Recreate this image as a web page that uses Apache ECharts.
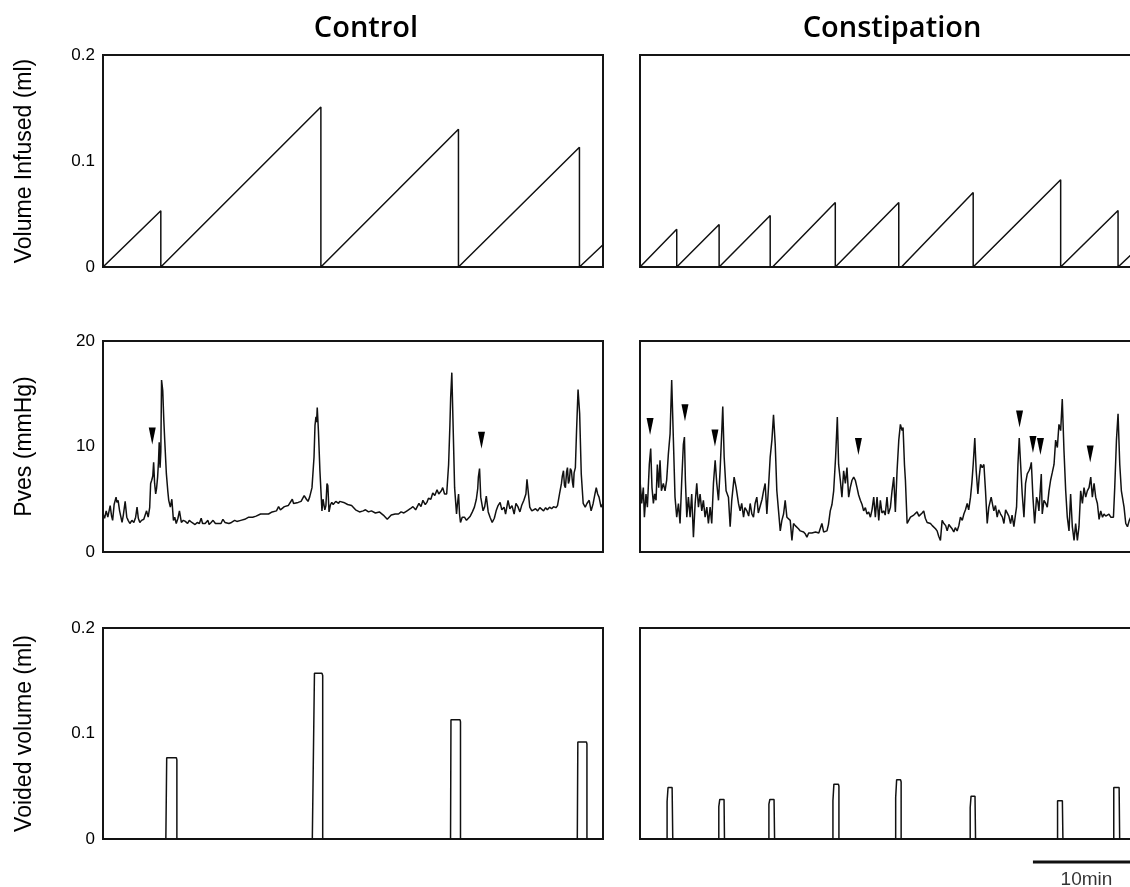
<!DOCTYPE html>
<html><head><meta charset="utf-8">
<script src="https://cdn.jsdelivr.net/npm/echarts@6/dist/echarts.min.js"></script>
<style>html,body{margin:0;padding:0;background:#fff}#c{width:1130px;height:887px}</style>
</head><body><div id="c"></div><script>
// time axis (minutes) shared by all panels
const timeMax = 46.7;
const panelTitles = ['Control', 'Constipation'];
const yAxisNames = ['Volume Infused (ml)', 'Pves (mmHg)', 'Voided volume (ml)'];
const yTicksVolume = [0, 0.1, 0.2];
const yTicksPressure = [0, 10, 20];
const scaleBar = [[36.7, 0], [46.7, 0]];
const scaleBarLabel = '10min';

// [minute, ml]
const infusedControl = [[0,0],[5.4,0.053],[5.4,0],[5.55,0],[20.35,0.151],[20.35,0],[20.45,0],[33.2,0.130],[33.2,0],[33.3,0],[44.5,0.113],[44.5,0],[44.6,0],[46.7,0.021]];
const infusedConstipation = [[0,0],[3.43,0.0357],[3.43,0],[3.58,0],[7.39,0.0401],[7.39,0],[7.55,0],[12.16,0.0486],[12.16,0],[12.38,0],[18.24,0.0608],[18.24,0],[18.4,0],[24.17,0.0608],[24.17,0],[24.42,0],[31.12,0.0702],[31.12,0],[31.27,0],[39.29,0.0824],[39.29,0],[39.45,0],[44.65,0.0533],[44.65,0],[44.8,0],[46.7,0.0195]];

// [minute, mmHg]
const pvesControl = [[0,3.6],[0.15,3.2],[0.3,3.9],[0.45,3.3],[0.67,4.4],[0.8,3.4],[0.9,3.0],[1.04,4.5],[1.22,5.2],[1.3,4.7],[1.41,4.9],[1.55,3.9],[1.78,2.8],[1.9,3.5],[2.07,4.8],[2.22,3.3],[2.35,3.0],[2.51,2.7],[2.7,3.0],[2.88,2.8],[3.05,3.3],[3.18,4.25],[3.3,3.2],[3.44,2.8],[3.6,3.0],[3.81,3.1],[4.07,3.9],[4.22,3.3],[4.36,4.2],[4.45,6.5],[4.55,6.8],[4.65,7.2],[4.73,8.5],[4.82,6.5],[4.92,5.5],[5.0,6.0],[5.10,7.1],[5.18,8.5],[5.25,10.4],[5.33,8.0],[5.40,9.5],[5.47,16.3],[5.58,15.3],[5.68,12.5],[5.77,10.5],[5.92,7.4],[6.05,5.8],[6.14,4.9],[6.29,4.25],[6.43,5.0],[6.58,3.0],[6.7,3.3],[6.84,2.7],[7.0,3.2],[7.14,3.9],[7.32,2.8],[7.5,3.0],[7.69,2.9],[7.9,2.7],[8.06,3.0],[8.3,2.8],[8.6,2.6],[8.8,2.8],[9.0,2.7],[9.17,3.2],[9.3,2.7],[9.54,2.7],[9.8,3.0],[9.91,2.6],[10.1,2.8],[10.28,3.0],[10.5,2.7],[10.65,2.8],[11.02,2.7],[11.2,3.1],[11.39,2.8],[11.76,2.7],[12.0,2.8],[12.13,2.7],[12.3,3.0],[12.5,2.9],[12.87,3.0],[13.24,3.1],[13.61,3.3],[13.98,3.3],[14.3,3.4],[14.72,3.6],[15.1,3.6],[15.46,3.6],[15.8,3.8],[16.2,3.9],[16.4,4.3],[16.57,4.0],[16.94,4.3],[17.3,4.4],[17.68,5.0],[17.8,4.6],[18.23,4.7],[18.5,4.8],[18.79,5.35],[19.0,5.0],[19.15,4.8],[19.3,5.2],[19.52,6.1],[19.71,9.0],[19.8,12.0],[19.89,12.8],[19.95,12.3],[20.01,13.7],[20.12,11.5],[20.26,7.7],[20.45,3.9],[20.55,5.0],[20.63,5.0],[20.72,4.0],[20.82,4.4],[20.92,6.5],[21.0,6.3],[21.11,3.8],[21.25,4.5],[21.37,4.7],[21.5,4.5],[21.74,4.8],[22.0,4.6],[22.11,4.8],[22.48,4.7],[22.85,4.5],[23.22,4.4],[23.59,4.0],[23.96,3.8],[24.3,3.9],[24.52,4.0],[24.8,3.8],[25.07,3.9],[25.44,3.7],[25.81,3.8],[26.18,3.5],[26.55,3.1],[26.92,3.5],[27.29,3.6],[27.6,3.6],[27.84,3.8],[28.1,3.7],[28.4,3.9],[28.7,4.1],[28.95,4.3],[29.2,4.0],[29.51,4.6],[29.7,4.3],[29.88,4.9],[30.1,4.5],[30.25,4.7],[30.4,5.1],[30.62,5.0],[30.8,5.6],[30.99,5.35],[31.2,5.9],[31.36,5.5],[31.6,5.8],[31.73,6.1],[31.9,5.5],[32.1,5.5],[32.28,8.3],[32.4,12.0],[32.47,14.6],[32.58,17.0],[32.69,12.4],[32.75,12.5],[32.84,6.1],[33.02,3.6],[33.1,4.5],[33.21,5.5],[33.3,3.6],[33.39,2.8],[33.55,3.3],[33.76,3.3],[33.95,3.0],[34.13,3.0],[34.3,3.4],[34.50,3.8],[34.69,4.25],[34.87,5.0],[35.0,6.0],[35.06,7.1],[35.17,7.9],[35.28,5.2],[35.5,3.9],[35.65,4.3],[35.80,5.3],[35.98,3.8],[36.15,3.3],[36.35,2.8],[36.55,3.2],[36.72,3.9],[36.9,4.4],[37.09,4.7],[37.25,4.0],[37.46,4.25],[37.6,3.6],[37.83,4.9],[38.0,4.1],[38.2,4.4],[38.4,3.6],[38.57,4.6],[38.75,4.3],[38.94,3.8],[39.1,4.4],[39.31,4.9],[39.5,5.5],[39.6,6.9],[39.68,6.9],[39.86,4.25],[40.05,3.9],[40.23,3.8],[40.4,4.1],[40.6,3.9],[40.8,4.2],[40.97,4.1],[41.15,3.9],[41.34,4.2],[41.5,4.0],[41.71,4.25],[41.9,4.1],[42.08,4.3],[42.3,4.2],[42.45,4.4],[42.64,5.5],[42.82,6.5],[42.9,7.2],[43.01,7.7],[43.1,6.3],[43.19,6.1],[43.3,7.6],[43.38,8.0],[43.47,6.5],[43.56,6.8],[43.65,7.9],[43.75,7.7],[43.85,6.6],[43.93,6.1],[44.0,7.5],[44.12,8.0],[44.23,11.5],[44.37,15.4],[44.45,14.2],[44.52,13.1],[44.6,10.0],[44.67,7.4],[44.85,4.6],[45.04,4.25],[45.2,4.6],[45.41,4.9],[45.59,3.9],[45.78,4.6],[45.95,5.5],[46.07,6.1],[46.2,5.5],[46.33,5.2],[46.52,4.25],[46.7,4.6]];
const pvesConstipation = [[0,6.8],[0.16,4.6],[0.31,6.1],[0.41,3.3],[0.56,5.5],[0.69,4.25],[0.87,8.3],[1.0,9.8],[1.12,6.1],[1.25,4.6],[1.37,5.5],[1.5,4.9],[1.62,8.3],[1.75,6.1],[1.87,8.7],[2.0,5.8],[2.18,6.5],[2.34,5.8],[2.49,6.8],[2.65,9.3],[2.81,11.2],[2.96,16.3],[3.12,10.6],[3.27,5.2],[3.43,3.3],[3.59,4.6],[3.74,2.7],[3.90,6.8],[4.05,10.2],[4.15,10.9],[4.24,6.8],[4.37,3.3],[4.52,5.2],[4.68,3.3],[4.83,5.5],[4.99,1.4],[5.15,4.6],[5.30,6.5],[5.46,4.25],[5.61,5.5],[5.77,3.9],[5.92,4.9],[6.08,3.3],[6.24,4.25],[6.39,2.7],[6.55,4.25],[6.70,2.7],[6.86,6.5],[7.02,8.7],[7.17,6.5],[7.33,4.9],[7.48,7.7],[7.64,11.5],[7.73,13.8],[7.86,9.0],[8.04,5.8],[8.26,5.2],[8.42,2.4],[8.57,4.9],[8.79,7.1],[8.98,6.1],[9.20,4.6],[9.35,3.9],[9.5,4.6],[9.67,3.3],[9.8,4.2],[9.98,3.9],[10.15,3.4],[10.29,4.6],[10.45,3.6],[10.60,3.3],[10.75,4.6],[10.91,5.2],[11.05,3.7],[11.23,3.6],[11.4,5.0],[11.54,5.8],[11.69,6.5],[11.85,3.6],[12.0,6.1],[12.16,9.0],[12.32,10.6],[12.47,13.0],[12.63,10.2],[12.78,5.8],[12.94,3.9],[13.10,2.0],[13.25,3.0],[13.41,3.6],[13.56,4.9],[13.72,3.3],[13.9,3.2],[14.03,3.0],[14.19,1.1],[14.34,2.7],[14.5,2.5],[14.66,2.4],[14.8,2.2],[14.97,2.0],[15.1,2.1],[15.28,1.9],[15.45,1.7],[15.59,1.4],[15.75,1.8],[15.90,1.7],[16.05,1.8],[16.21,1.8],[16.4,1.9],[16.53,2.0],[16.7,1.8],[16.84,1.7],[16.99,2.7],[17.15,1.9],[17.3,2.0],[17.46,2.0],[17.6,2.6],[17.77,3.9],[17.93,4.5],[18.09,5.8],[18.27,9.0],[18.43,12.8],[18.55,8.3],[18.71,6.8],[18.86,5.2],[19.02,7.7],[19.18,6.5],[19.33,8.0],[19.49,5.2],[19.64,6.1],[19.8,6.8],[19.96,7.1],[20.11,6.8],[20.27,6.1],[20.42,5.4],[20.58,4.9],[20.74,4.5],[20.89,3.9],[21.05,4.2],[21.20,3.6],[21.36,3.8],[21.52,3.3],[21.67,4.0],[21.83,5.2],[21.98,3.3],[22.14,5.2],[22.30,3.0],[22.45,4.9],[22.6,3.7],[22.76,3.9],[22.9,3.5],[23.07,5.2],[23.2,3.6],[23.39,4.25],[23.54,5.8],[23.70,7.1],[23.85,3.8],[24.01,7.7],[24.17,10.6],[24.32,12.1],[24.48,11.5],[24.57,11.8],[24.70,8.3],[24.79,6.8],[24.95,2.7],[25.1,3.0],[25.26,3.3],[25.4,3.2],[25.57,3.5],[25.7,3.4],[25.88,3.8],[26.05,3.4],[26.19,3.3],[26.35,3.7],[26.50,3.9],[26.65,3.2],[26.82,2.8],[26.95,2.9],[27.13,2.7],[27.3,2.5],[27.44,2.4],[27.6,2.2],[27.75,2.0],[27.9,1.5],[28.06,1.1],[28.22,3.0],[28.38,2.7],[28.55,2.5],[28.69,2.0],[28.85,2.6],[29.0,2.4],[29.15,2.2],[29.31,1.9],[29.45,2.3],[29.62,2.0],[29.78,2.5],[29.93,3.3],[30.1,3.0],[30.25,3.6],[30.4,4.0],[30.56,4.6],[30.7,4.0],[30.87,5.2],[31.0,6.6],[31.12,8.3],[31.27,10.8],[31.40,7.7],[31.56,5.5],[31.68,7.1],[31.81,8.3],[31.96,8.0],[32.12,8.3],[32.27,5.8],[32.43,2.7],[32.58,4.25],[32.80,5.2],[32.95,4.4],[33.05,3.9],[33.2,4.4],[33.36,3.3],[33.5,4.0],[33.68,3.6],[33.85,3.3],[33.99,2.7],[34.15,4.0],[34.30,3.9],[34.45,3.4],[34.61,2.7],[34.75,3.5],[34.92,2.4],[35.05,3.4],[35.17,4.25],[35.30,8.3],[35.42,10.8],[35.55,8.3],[35.70,5.5],[35.86,3.3],[36.01,6.5],[36.17,7.4],[36.33,7.7],[36.45,8.0],[36.55,8.5],[36.70,5.2],[36.86,2.7],[37.04,5.2],[37.15,4.8],[37.26,3.9],[37.48,7.4],[37.57,3.6],[37.73,4.9],[37.9,4.6],[38.04,4.25],[38.2,5.8],[38.35,6.8],[38.5,7.5],[38.67,8.3],[38.82,10.6],[38.98,9.9],[39.13,12.1],[39.29,11.5],[39.44,14.5],[39.60,9.6],[39.76,5.8],[39.91,3.3],[40.07,2.0],[40.22,5.5],[40.38,2.4],[40.54,1.1],[40.69,2.7],[40.85,1.1],[41.0,2.4],[41.16,5.8],[41.32,4.6],[41.47,6.1],[41.63,5.2],[41.78,5.8],[41.94,6.1],[42.10,7.1],[42.25,5.2],[42.41,6.5],[42.56,5.2],[42.72,4.6],[42.88,3.1],[43.03,3.9],[43.2,3.3],[43.34,3.6],[43.5,3.4],[43.65,3.3],[43.8,3.6],[43.97,3.3],[44.1,3.4],[44.22,3.3],[44.34,6.1],[44.50,10.6],[44.65,13.1],[44.81,8.3],[44.96,5.8],[45.21,4.25],[45.37,2.7],[45.53,2.4],[45.7,3.0],[45.84,3.3],[46.0,3.0],[46.2,3.4],[46.4,2.9],[46.7,3.2]];

// arrowheads marking non-voiding contractions [minute, mmHg]
const arrowsControl = [[4.6,11.0],[35.35,10.6]];
const arrowsConstipation = [[0.94,11.9],[4.2,13.2],[7.0,10.8],[20.4,10.0],[35.45,12.6],[36.7,10.2],[37.4,10.0],[42.05,9.3]];

// [minute, ml]
const voidedControl = [[0,0],[5.87,0],[5.95,0.077],[6.85,0.077],[6.9,0.075],[6.9,0],[19.55,0],[19.75,0.157],[20.45,0.157],[20.52,0.155],[20.52,0],[32.46,0],[32.5,0.113],[33.35,0.113],[33.39,0.111],[33.39,0],[44.3,0],[44.35,0.092],[45.15,0.092],[45.2,0.09],[45.2,0],[46.7,0]];
const voidedConstipation = [[0,0],[2.53,0],[2.53,0.0356],[2.62,0.0356],[2.62,0.0488],[3.0,0.0488],[3.06,0.047],[3.06,0],[7.36,0],[7.36,0.0306],[7.45,0.0306],[7.45,0.0375],[7.85,0.0375],[7.89,0.036],[7.89,0],[12.04,0],[12.04,0.033],[12.13,0.033],[12.13,0.0375],[12.52,0.0375],[12.57,0.036],[12.57,0],[18.02,0],[18.02,0.0362],[18.11,0.0362],[18.11,0.052],[18.53,0.052],[18.58,0.05],[18.58,0],[23.88,0],[23.88,0.0394],[23.97,0.0394],[23.97,0.0561],[24.34,0.0561],[24.39,0.054],[24.39,0],[30.84,0],[30.84,0.0299],[30.92,0.0299],[30.92,0.0406],[31.29,0.0406],[31.34,0.039],[31.34,0],[39.0,0],[39.0,0.0362],[39.45,0.0362],[39.5,0.035],[39.5,0],[44.25,0],[44.25,0.0488],[44.75,0.0488],[44.8,0.047],[44.8,0],[46.7,0]];

const chart = echarts.init(document.getElementById('c'), null, {renderer: 'canvas'});

const colLeft = [103, 640];
const colWidth = 500;
const rowTop = [55, 341, 628];
const rowHeight = [212, 211, 211];
const panelData = [
  [infusedControl, infusedConstipation],
  [pvesControl, pvesConstipation],
  [voidedControl, voidedConstipation]
];
const rowTicks = [yTicksVolume, yTicksPressure, yTicksVolume];

const grids = [], xAxes = [], yAxes = [], series = [];
for (let r = 0; r < 3; r++) {
  for (let c = 0; c < 2; c++) {
    const idx = grids.length;
    grids.push({left: colLeft[c], top: rowTop[r], width: colWidth, height: rowHeight[r],
      show: true, borderColor: '#151515', borderWidth: 2, backgroundColor: 'transparent',
      outerBoundsMode: 'none', containLabel: false});
    xAxes.push({type: 'value', gridIndex: idx, min: 0, max: timeMax, show: false});
    const ticks = rowTicks[r];
    yAxes.push({type: 'value', gridIndex: idx, min: ticks[0], max: ticks[2], interval: ticks[1] - ticks[0],
      axisLine: {show: false}, axisTick: {show: false}, splitLine: {show: false},
      axisLabel: {show: c === 0, color: '#000', fontFamily: 'Liberation Sans', fontSize: 17, margin: 8,
        formatter: v => String(v)},
      name: c === 0 ? yAxisNames[r] : '', nameLocation: 'middle', nameRotate: 90, nameGap: 67,
      nameTextStyle: {color: '#000', fontFamily: 'Liberation Sans', fontSize: 23}});
    series.push({type: 'line', xAxisIndex: idx, yAxisIndex: idx, data: panelData[r][c],
      symbol: 'none', silent: true, animation: false,
      lineStyle: {color: '#111', width: 1.5}});
  }
}
// arrowheads in Pves panels
[arrowsControl, arrowsConstipation].forEach((arr, c) => {
  series.push({type: 'scatter', xAxisIndex: 2 + c, yAxisIndex: 2 + c, data: arr,
    symbol: 'triangle', symbolRotate: 180, symbolSize: [7, 17], animation: false, silent: true,
    itemStyle: {color: '#000', opacity: 1}});
});
// scale bar grid
grids.push({left: colLeft[1], top: 855, width: colWidth, height: 14, show: false, outerBoundsMode: 'none'});
xAxes.push({type: 'value', gridIndex: 6, min: 0, max: timeMax, show: false});
yAxes.push({type: 'value', gridIndex: 6, min: -1, max: 1, show: false});
series.push({type: 'line', xAxisIndex: 6, yAxisIndex: 6, data: scaleBar, symbol: 'none', animation: false,
  lineStyle: {color: '#111', width: 3}});
series.push({type: 'scatter', xAxisIndex: 6, yAxisIndex: 6,
  data: [[(scaleBar[0][0] + scaleBar[1][0]) / 2, 0]], symbolSize: 0, animation: false,
  label: {show: true, position: 'bottom', distance: 8, formatter: scaleBarLabel,
    color: '#000', fontFamily: 'Liberation Sans', fontSize: 19}});

chart.setOption({
  animation: false,
  backgroundColor: '#fff',
  title: panelTitles.map((t, c) => ({text: t, left: c === 0 ? 366 : 892, top: 14, padding: 0, textAlign: 'center',
    textStyle: {fontFamily: 'Open Sans', fontWeight: 600, fontSize: 29, color: '#000'}})),
  grid: grids, xAxis: xAxes, yAxis: yAxes, series: series
});
</script></body></html>
